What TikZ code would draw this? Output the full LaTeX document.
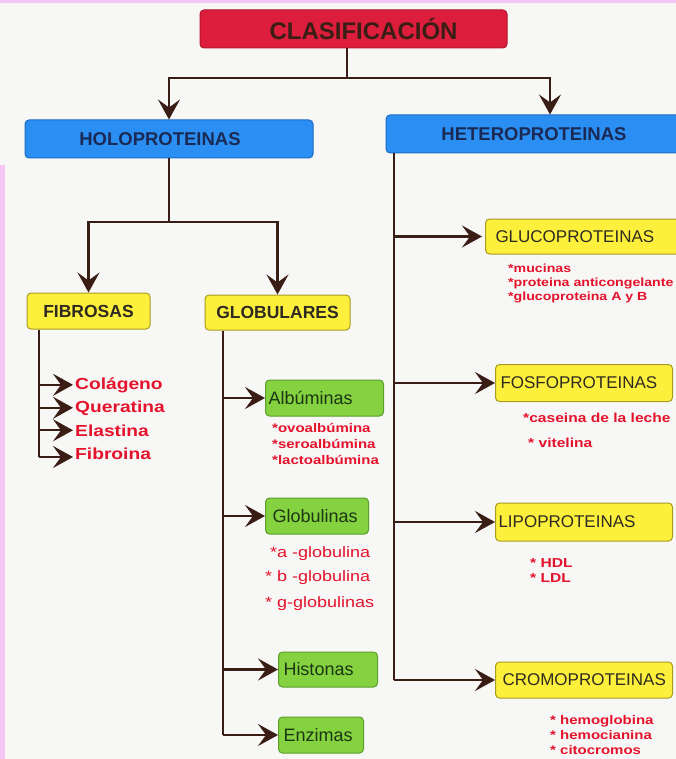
\documentclass[tikz,border=0pt]{standalone}
\usepackage{fontspec}
\newfontfamily\wf{Liberation Sans}[FakeStretch=1.2]
\newfontfamily\nf{Liberation Sans}
\usetikzlibrary{arrows.meta}
\definecolor{bg}{HTML}{F7F7F5}
\definecolor{pinkc}{HTML}{F5C6F4}
\definecolor{redf}{HTML}{DC1E3C}
\definecolor{redd}{HTML}{B5152E}
\definecolor{bluef}{HTML}{2A8EF2}
\definecolor{blued}{HTML}{1C6BC2}
\definecolor{navy}{HTML}{1B2A55}
\definecolor{yelf}{HTML}{FDF03C}
\definecolor{yeld}{HTML}{A89A22}
\definecolor{grnf}{HTML}{84D23F}
\definecolor{grnd}{HTML}{5C9E2C}
\definecolor{grnt}{HTML}{1C3512}
\definecolor{brn}{HTML}{3A1E16}
\definecolor{redt}{HTML}{E5122C}
\definecolor{dk}{HTML}{2E2A22}
\tikzset{
  box/.style={draw, line width=1pt, rounded corners=4pt, inner ysep=0pt},
  redbox/.style={box, fill=redf, draw=redd, text=brn, inner xsep=0pt,
    font=\nf\bfseries\fontsize{24}{28}\selectfont},
  bluebox/.style={box, fill=bluef, draw=blued, text=navy, inner xsep=0pt,
    font=\nf\bfseries\fontsize{18.5}{22}\selectfont},
  ybold/.style={box, fill=yelf, draw=yeld, text=dk, inner xsep=0pt,
    font=\nf\bfseries\fontsize{17.5}{21}\selectfont},
  yreg/.style={box, fill=yelf, draw=yeld, text=dk, align=left, anchor=west,
    font=\nf\fontsize{17}{20}\selectfont},
  gbox/.style={box, fill=grnf, draw=grnd, text=grnt, align=left, anchor=west,
    font=\nf\fontsize{18}{21}\selectfont},
  subb/.style={anchor=base west, inner sep=0pt, text=redt,
    font=\wf\bfseries\fontsize{#1}{#1}\selectfont},
  subr/.style={anchor=base west, inner sep=0pt, text=redt,
    font=\wf\fontsize{#1}{#1}\selectfont},
  conn/.style={draw=brn, line width=2.2pt},
  arr/.style={conn, -{Stealth[length=20pt, width=22pt, inset=8pt]}},
}
\begin{document}
\begin{tikzpicture}[x=1pt, y=-1pt]
\useasboundingbox (0,0) rectangle (676,759);
\fill[bg] (0,0) rectangle (676,759);
\fill[pinkc] (0,0) rectangle (676,3);
\fill[pinkc] (0,165) rectangle (5,759);

% top level
\node[redbox, minimum width=307pt, minimum height=38pt] (clas) at (353.5,29) {\hspace*{20pt}CLASIFICACIÓN};
\node[bluebox, minimum width=288pt, minimum height=38pt] (holo) at (169,139) {HOLOPROTEINAS\hspace*{18pt}};
\node[bluebox, minimum width=328pt, minimum height=38pt] (hetero) at (550,134) {HETEROPROTEINAS\hspace*{32pt}};

\coordinate (j1) at (347,78);
\draw[conn] (clas.south -| j1) -- (j1);
\draw[arr] (j1) -| (holo.north);
\draw[arr] (j1) -| (hetero.north);

% holoproteinas
\node[ybold, minimum width=123pt, minimum height=36pt] (fib) at (88.5,311) {FIBROSAS};
\node[ybold, minimum width=145pt, minimum height=35pt] (glob) at (277.5,312.5) {GLOBULARES};
\coordinate (j2) at (169,222);
\draw[conn] (holo.south) -- (j2);
\draw[arr] (j2) -| (fib.north);
\draw[arr] (j2) -| (glob.north);

% fibrosas
\node[subb=16] (col) at (75,389) {Colágeno};
\node[subb=16] (que) at (75,412) {Queratina};
\node[subb=16] (ela) at (75,436) {Elastina};
\node[subb=16] (fbr) at (75,459) {Fibroina};
\coordinate (fstem) at (39,457);
\draw[conn] (fib.south -| fstem) -- (fstem);
\draw[arr] (fstem |- col.west) -- ([xshift=-2pt]col.west);
\draw[arr] (fstem |- que.west) -- ([xshift=-2pt]que.west);
\draw[arr] (fstem |- ela.west) -- ([xshift=-2pt]ela.west);
\draw[arr] (fstem) -- ([xshift=-2pt]fbr.west |- fstem);

% globulares
\node[gbox, text width=112pt, inner xsep=3pt, minimum height=36pt] (alb) at (265,398) {Albúminas};
\node[gbox, text width=89pt, inner xsep=7pt, minimum height=36pt] (glb) at (265,516) {Globulinas};
\node[gbox, text width=89pt, inner xsep=5pt, minimum height=35pt] (his) at (278,669.5) {Histonas};
\node[gbox, text width=75pt, inner xsep=5pt, minimum height=36pt] (enz) at (278,735) {Enzimas};
\coordinate (gstem) at (223,735);
\draw[conn] (glob.south -| gstem) -- (gstem);
\draw[arr] (gstem |- alb.west) -- (alb.west);
\draw[arr] (gstem |- glb.west) -- (glb.west);
\draw[arr] (gstem |- his.west) -- (his.west);
\draw[arr] (gstem) -- (enz.west);

\node[subb=12.5] (ovo) at (272,432.5) {*ovoalbúmina};
\node[subb=12.5] (sero) at (272,448.5) {*seroalbúmina};
\node[subb=12.5] (lacto) at (272,464.5) {*lactoalbúmina};
\node[subr=15] (galfa) at (270,557.4) {*a -globulina};
\node[subr=15] (gbeta) at (265,581.4) {* b -globulina};
\node[subr=15] (ggama) at (265,607.4) {* g-globulinas};

% heteroproteinas
\node[yreg, text width=195pt, inner xsep=10pt, minimum height=35pt] (gluco) at (485,236.5) {GLUCOPROTEINAS};
\node[yreg, text width=167pt, inner xsep=5pt, minimum height=37pt] (fosfo) at (495,383) {FOSFOPROTEINAS};
\node[yreg, text width=171pt, inner xsep=3pt, minimum height=38pt] (lipo) at (495,522) {LIPOPROTEINAS};
\node[yreg, text width=163pt, inner xsep=7pt, minimum height=36pt] (cromo) at (495,680) {CROMOPROTEINAS};
\coordinate (hstem) at (394,680);
\draw[conn] (hetero.south -| hstem) -- (hstem);
\draw[arr] (hstem |- gluco.west) -- ([xshift=-3pt]gluco.west);
\draw[arr] (hstem |- fosfo.west) -- (fosfo.west);
\draw[arr] (hstem |- lipo.west) -- (lipo.west);
\draw[arr] (hstem) -- (cromo.west);

\node[subb=11.8] (muc) at (508,272.2) {*mucinas};
\node[subb=11.8] (anti) at (508,286.2) {*proteina anticongelante};
\node[subb=11.8] (gab) at (508,300.2) {*glucoproteina A y B};
\node[subb=13] (cas) at (523,422.7) {*caseina de la leche};
\node[subb=13] (vit) at (528,447.7) {* vitelina};
\node[subb=13] (hdl) at (530,567.7) {* HDL};
\node[subb=13] (ldl) at (530,582.7) {* LDL};
\node[subb=12.5] (hmg) at (550,724.5) {* hemoglobina};
\node[subb=12.5] (hmc) at (550,739.5) {* hemocianina};
\node[subb=12.5] (cit) at (550,754.5) {* citocromos};
\end{tikzpicture}
\end{document}
